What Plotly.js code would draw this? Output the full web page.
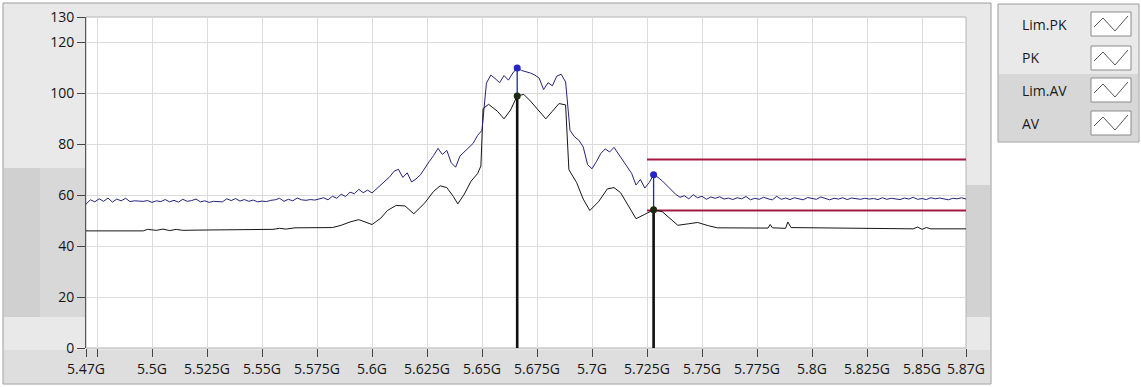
<!DOCTYPE html>
<html>
<head>
<meta charset="utf-8">
<script src="https://cdn.plot.ly/plotly-3.0.1.min.js"></script>
<style>html,body{margin:0;padding:0;background:#fff;}#chart{width:1141px;height:387px;}</style>
</head>
<body>
<div id="chart"></div>
<script>
// ---- data ----
const seriesNames = ["Lim.PK", "PK", "Lim.AV", "AV"];

// PK sweep: start frequency and step (GHz), values in dBuV
const pkStartGHz = 5.47;
const pkStepGHz = 0.002;
const pkValues = [
  56.5, 58.2, 57.4, 58.6, 57.6, 58.9, 57.3, 58.5, 57.8, 58.8, 57.5,
  57.8, 57.7, 57.6, 57.9, 57.2, 57.8, 57.5, 58.3, 57.4, 58.0,
  57.3, 58.4, 57.6, 57.9, 58.5, 57.4, 57.8, 57.2, 57.6, 57.5,
  57.4, 58.6, 57.9, 58.7, 57.7, 58.3, 57.6, 58.1, 57.4, 57.7,
  57.5, 58.0, 58.2, 58.8, 57.6, 58.4, 57.8, 58.9, 58.2, 58.0,
  58.3, 58.1, 58.5, 59.0, 58.2,
  59.6, 58.8, 60.4, 59.5, 61.2, 60.6, 62.3, 61.0, 62.0, 60.9,
  62.5, 64.0, 65.8, 67.2, 69.4,
  70.2, 67.0, 68.8, 65.2, 66.4,
  68.0, 70.8, 73.2, 75.6, 78.4,
  76.0, 77.6, 72.8, 71.0, 75.4,
  77.2, 79.0, 80.4, 83.5,
  85.5,
  104.0, 107.2, 105.8, 104.2, 107.0, 105.2, 108.0, 110.0,
  109.0, 108.6, 108.0, 107.2, 106.0, 101.5, 104.2, 103.0, 106.8, 107.5, 104.5,
  85.5,
  83.0, 81.6, 79.0, 72.0, 70.4, 73.2,
  76.4, 78.2, 77.0, 78.8,
  76.2, 73.8, 71.2, 68.6,
  64.0, 66.2, 62.8,
  65.0, 68.0, 67.0, 65.6, 63.8, 62.0, 60.4, 59.2,
  59.8, 58.6, 60.2, 59.0, 59.6, 58.4, 59.3, 58.8, 59.4, 58.5,
  58.9, 58.3, 59.0, 58.6, 59.5, 58.2, 58.8, 58.4, 59.2, 58.6,
  58.2, 59.6, 58.4, 58.9, 58.3, 59.0, 58.5, 58.2, 59.1, 58.6,
  58.4, 59.3, 58.7, 58.2, 58.8, 58.5, 59.0, 58.3, 58.9, 58.6,
  58.4, 58.8, 58.5, 58.7, 58.3, 59.0, 58.4, 58.8, 58.6, 58.3,
  58.9, 58.5, 59.2, 58.4, 58.7, 58.3, 59.0, 58.6, 58.9, 58.5,
  58.2, 58.8, 58.6, 59.0, 58.5
];

// AV trace (GHz, dBuV)
const avFreq = [
  5.47, 5.496, 5.498, 5.502, 5.505, 5.508, 5.511, 5.514, 5.52, 5.55,
  5.555, 5.558, 5.561, 5.565, 5.582, 5.586, 5.59, 5.594, 5.598, 5.6,
  5.604, 5.607, 5.611, 5.615, 5.619, 5.624, 5.628, 5.631, 5.634, 5.637,
  5.639, 5.642, 5.645, 5.648, 5.6495, 5.6505, 5.653, 5.657, 5.66, 5.663,
  5.666, 5.669, 5.672, 5.676, 5.679, 5.682, 5.685, 5.688, 5.6895, 5.693,
  5.696, 5.699, 5.703, 5.707, 5.71, 5.713, 5.717, 5.72, 5.724, 5.728,
  5.732, 5.736, 5.739, 5.744, 5.748, 5.753, 5.757, 5.78, 5.781, 5.782,
  5.788, 5.789, 5.7905, 5.846, 5.848, 5.85, 5.852, 5.854, 5.87
];
const avValues = [
  46.0, 46.0, 46.6, 46.2, 46.7, 46.1, 46.6, 46.2, 46.3, 46.4,
  46.6, 47.0, 46.7, 47.2, 47.3, 48.2, 49.5, 50.4, 49.0, 48.5,
  51.0, 54.0, 56.0, 55.8, 52.7, 57.0, 61.5, 63.7, 63.0, 59.5,
  56.6, 60.5, 65.5, 68.5, 71.5, 94.0, 95.7, 93.0, 90.0, 93.5,
  99.0, 99.6, 97.0, 93.0, 90.0, 93.0, 96.0, 95.5, 70.0, 65.0,
  58.5, 54.0, 57.5, 62.5, 63.0, 61.0, 55.0, 50.8, 52.5, 54.3,
  53.5, 50.5, 48.2, 48.8, 49.3, 48.0, 47.2, 47.1, 48.5, 47.2,
  47.0, 49.5, 47.3, 46.8, 47.5, 46.6, 47.3, 46.8, 46.8
];

// limit lines
const limFreq = [5.725, 5.87];
const limPK = [74, 74];
const limAV = [54, 54];

// markers
const markerFreq = [5.666, 5.728];
const markerPK = [110, 68];
const markerAV = [99, 54.3];

// axis ticks
const xTickVals = [5.47, 5.475, 5.5, 5.525, 5.55, 5.575, 5.6, 5.625, 5.65, 5.675, 5.7, 5.725, 5.75, 5.775, 5.8, 5.825, 5.85, 5.87];
const xTickText = ["5.47G", "", "5.5G", "5.525G", "5.55G", "5.575G", "5.6G", "5.625G", "5.65G", "5.675G", "5.7G", "5.725G", "5.75G", "5.775G", "5.8G", "5.825G", "5.85G", "5.87G"];
const yTickVals = [0, 20, 40, 60, 80, 100, 120, 130];

// ---- geometry helpers (layout decoration only) ----
const L = 86, R = 966, T = 17, B = 348;
const W = R - L, H = B - T;
const px = X => (X - L) / W;
const py = Y => (B - Y) / H;

const PK_COLOR = "#23237a";
const AV_COLOR = "#161616";
const LIM_COLOR = "#a3193f";

const traces = [];
traces.push({type: "scatter", mode: "lines", name: seriesNames[0], x: limFreq, y: limPK,
  line: {color: LIM_COLOR, width: 2}});
traces.push({type: "scatter", mode: "lines", name: seriesNames[2], x: limFreq, y: limAV,
  line: {color: LIM_COLOR, width: 2}});
traces.push({type: "scatter", mode: "lines", name: seriesNames[3], x: avFreq, y: avValues,
  line: {color: AV_COLOR, width: 1}});
traces.push({type: "scatter", mode: "lines", name: seriesNames[1], x0: pkStartGHz, dx: pkStepGHz, y: pkValues,
  line: {color: PK_COLOR, width: 1}});
for (let k = 0; k < markerFreq.length; k++) {
  traces.push({type: "scatter", mode: "lines", showlegend: false,
    x: [markerFreq[k], markerFreq[k]], y: [0, markerPK[k]],
    line: {color: "#1f2a9a", width: 1.3}});
  traces.push({type: "scatter", mode: "lines", showlegend: false,
    x: [markerFreq[k], markerFreq[k]], y: [0, markerAV[k]],
    line: {color: "#111111", width: 2.6}});
}
traces.push({type: "scatter", mode: "markers", showlegend: false, x: markerFreq, y: markerPK,
  marker: {color: "#2626c8", size: 7}});
traces.push({type: "scatter", mode: "markers", showlegend: false, x: markerFreq, y: markerAV,
  marker: {color: "#1d2a12", size: 7}});

// ---- decoration shapes ----
const rect = (x0, y0, x1, y1, fill, line) => ({
  type: "rect", xref: "paper", yref: "paper", layer: "below",
  x0: px(x0), x1: px(x1), y0: py(y1), y1: py(y0),
  fillcolor: fill, line: line || {width: 0}
});
const shapes = [
  rect(3, 3, 991, 384, "#e9e9e9", {color: "#9c9c9c", width: 1}),
  rect(4, 168, 85, 317, "#d8d8d8"),
  rect(4, 168, 40, 317, "#d0d0d0"),
  rect(966, 185, 990, 317, "#d2d2d2"),
  rect(4, 350, 990, 383, "#dedede"),
  rect(L, T, R, B, "#ffffff", {color: "#b4b4b4", width: 1}),
  rect(998, 4, 1139, 142, "#e9e9e9", {color: "#9c9c9c", width: 1}),
  rect(999, 74, 1138, 141, "#d7d7d7")
];
const rowY = [24, 58, 90, 123];
const annotations = [];
rowY.forEach((yc, i) => {
  shapes.push(rect(1091, yc - 12, 1131, yc + 12, "#ffffff", {color: "#8a8a8a", width: 1}));
  shapes.push({type: "path", xref: "paper", yref: "paper", layer: "above",
    path: "M" + px(1094) + "," + py(yc + 3) + " L" + px(1103) + "," + py(yc - 6) +
          " L" + px(1115) + "," + py(yc + 7) + " L" + px(1128) + "," + py(yc - 8),
    line: {color: "#555555", width: 1}});
  annotations.push({xref: "paper", yref: "paper", x: px(1020), y: py(yc),
    xanchor: "left", yanchor: "middle", showarrow: false, text: seriesNames[i],
    font: {family: "Open Sans", size: 14, color: "#1a1a1a"}});
});

const layout = {
  width: 1141, height: 387,
  margin: {l: L, r: 1141 - R, t: T, b: 387 - B, pad: 0},
  paper_bgcolor: "#ffffff",
  plot_bgcolor: "#ffffff",
  showlegend: false,
  hovermode: false,
  xaxis: {
    range: [5.47, 5.87], tickvals: xTickVals, ticktext: xTickText,
    ticks: "outside", ticklen: 8, tickcolor: "#444",
    showgrid: true, gridcolor: "#dcdcdc", gridwidth: 1,
    zeroline: false, showline: false,
    tickfont: {family: "Open Sans", size: 14, color: "#151515"}
  },
  yaxis: {
    range: [0, 130], tickvals: yTickVals,
    ticks: "outside", ticklen: 8, tickcolor: "#444",
    showgrid: true, gridcolor: "#dcdcdc", gridwidth: 1,
    zeroline: false, showline: true, linecolor: "#555", linewidth: 1,
    tickfont: {family: "Open Sans", size: 14, color: "#151515"}
  },
  shapes: shapes,
  annotations: annotations
};

Plotly.newPlot("chart", traces, layout, {staticPlot: true, displayModeBar: false});
</script>
</body>
</html>
